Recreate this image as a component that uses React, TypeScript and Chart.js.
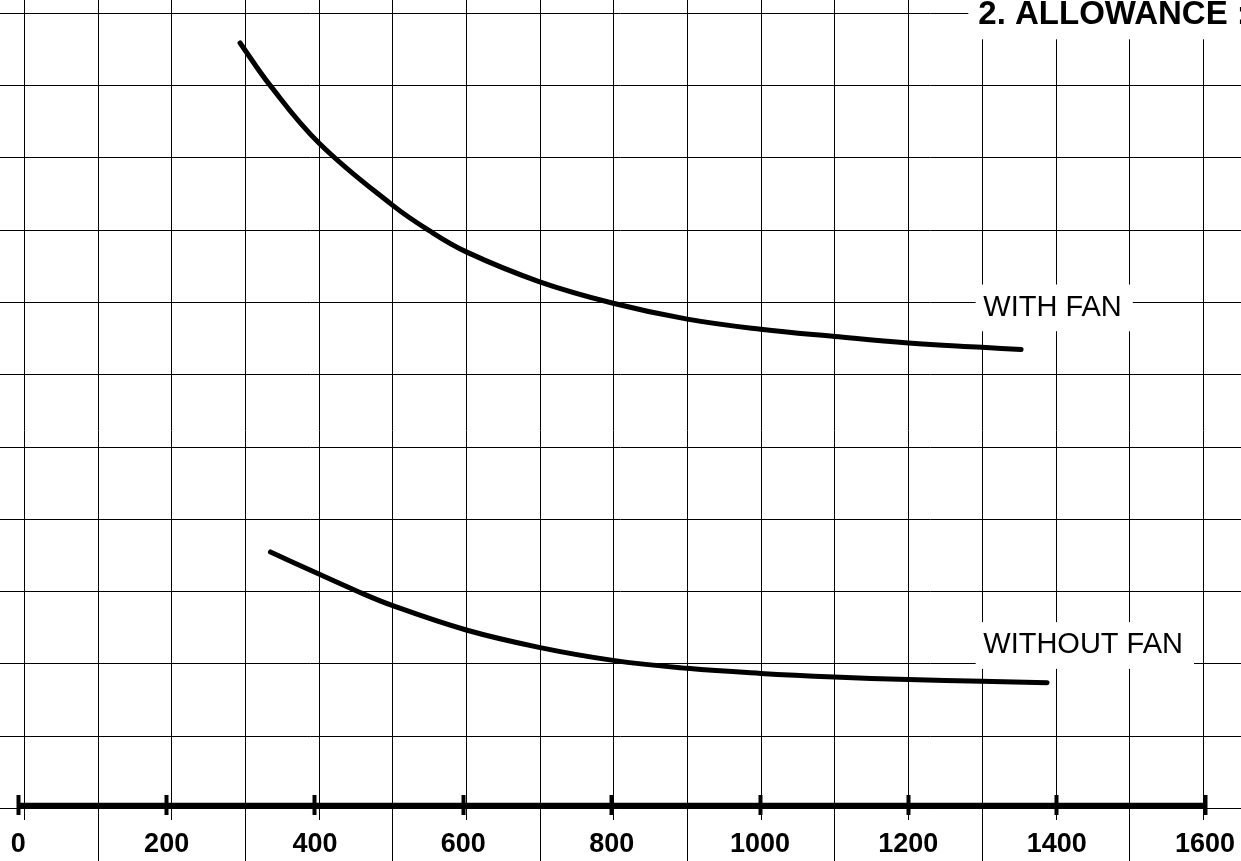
import React, { useEffect, useRef } from "react";
import { Chart, registerables } from "chart.js";

Chart.register(...registerables);

// ---- data ----
const X_TICKS = [0, 200, 400, 600, 800, 1000, 1200, 1400, 1600];
const GRID_X = [0, 1, 2, 3, 4, 5, 6, 7, 8, 9, 10, 11, 12, 13, 14, 15, 16];
const GRID_Y = [0, 1, 2, 3, 4, 5, 6, 7, 8, 9, 10, 11];

const WITH_FAN_X = [299, 339, 406, 504, 553, 604, 702, 802, 902, 1001, 1101, 1200, 1299, 1352];
const WITH_FAN_Y = [10.59, 10.01, 9.2, 8.35, 8.0, 7.7, 7.29, 6.99, 6.77, 6.63, 6.53, 6.44, 6.38, 6.35];

const WITHOUT_FAN_X = [340, 406, 454, 504, 604, 702, 802, 902, 1001, 1100, 1200, 1299, 1387];
const WITHOUT_FAN_Y = [3.55, 3.24, 3.02, 2.81, 2.47, 2.23, 2.05, 1.94, 1.87, 1.82, 1.785, 1.76, 1.74];

const SERIES_LABELS = ["WITH FAN", "WITHOUT FAN"];
const TITLE = "2. ALLOWANCE :";

// ---- layout constants ----
const W = 1241;
const H = 861;
const X_MIN = -24.67;
const X_MAX = 1648.5;
const Y_MIN = -0.725;
const Y_MAX = 11.184;
const XG_MIN = -0.33;
const XG_MAX = 16.51;
const TICK_AXIS_Y = 0.188; // where the labelled axis' tick marks begin
const AXIS_LINE_Y = 0.04; // thick axis line
const LABEL_X = 1301;
const LABEL_Y = [6.82, 2.15];

const FONT = '"Liberation Sans", Arial, sans-serif';

const toPoints = (xs: number[], ys: number[]) => xs.map((x, i) => ({ x, y: ys[i] }));

const textBoxesPlugin = {
  id: "textBoxes",
  afterDraw(chart: any) {
    const ctx = chart.ctx as CanvasRenderingContext2D;
    const xs = chart.scales.x;
    const ys = chart.scales.y;
    ctx.save();
    ctx.textBaseline = "alphabetic";
    ctx.textAlign = "left";
    ctx.font = `29px ${FONT}`;
    SERIES_LABELS.forEach((text, i) => {
      const px = xs.getPixelForValue(LABEL_X);
      const py = ys.getPixelForValue(LABEL_Y[i]);
      const w = ctx.measureText(text).width;
      ctx.fillStyle = "#fff";
      ctx.fillRect(px - 7.6, py - 31, w + 7.6 + 11, 46.7);
      ctx.fillStyle = "#000";
      ctx.fillText(text, px, py);
    });
    // title box (cut by the right edge)
    ctx.font = `bold 33px ${FONT}`;
    ctx.fillStyle = "#fff";
    ctx.fillRect(968.3, 0, chart.width - 968.3, 39.3);
    ctx.fillStyle = "#000";
    ctx.fillText(TITLE, 978.3, 24);
    ctx.restore();
  },
};

export default function App() {
  const ref = useRef<HTMLCanvasElement | null>(null);

  useEffect(() => {
    if (!ref.current) return;
    const lineStyle = {
      borderColor: "#000",
      borderWidth: 5,
      pointRadius: 0,
      borderCapStyle: "round" as const,
      borderJoinStyle: "round" as const,
      tension: 0.4,
      fill: false,
      xAxisID: "x",
      yAxisID: "y",
    };
    const chart = new Chart(ref.current, {
      type: "line",
      data: {
        datasets: [
          { ...lineStyle, label: SERIES_LABELS[0], data: toPoints(WITH_FAN_X, WITH_FAN_Y) },
          { ...lineStyle, label: SERIES_LABELS[1], data: toPoints(WITHOUT_FAN_X, WITHOUT_FAN_Y) },
          {
            label: "axis",
            data: [
              { x: X_TICKS[0], y: AXIS_LINE_Y },
              { x: X_TICKS[X_TICKS.length - 1], y: AXIS_LINE_Y },
            ],
            borderColor: "#000",
            borderWidth: 6,
            pointRadius: 0,
            borderCapStyle: "butt",
            tension: 0,
            xAxisID: "x",
            yAxisID: "y",
          },
        ],
      },
      options: {
        animation: false,
        responsive: false,
        events: [],
        layout: { padding: 0 },
        plugins: {
          legend: { display: false },
          tooltip: { enabled: false },
          title: { display: false },
        },
        scales: {
          xg: {
            type: "linear",
            axis: "x",
            position: { y: 0 } as any,
            min: XG_MIN,
            max: XG_MAX,
            afterBuildTicks: (s: any) => {
              s.ticks = GRID_X.map((v) => ({ value: v }));
            },
            grid: { color: "#000", lineWidth: 1, drawTicks: false, drawOnChartArea: true },
            border: { display: false },
            ticks: { display: false },
          },
          y: {
            type: "linear",
            axis: "y",
            position: { x: 0 } as any,
            min: Y_MIN,
            max: Y_MAX,
            afterBuildTicks: (s: any) => {
              s.ticks = GRID_Y.map((v) => ({ value: v }));
            },
            grid: { color: "#000", lineWidth: 1, drawTicks: false, drawOnChartArea: true },
            border: { display: false },
            ticks: { display: false },
          },
          x: {
            type: "linear",
            axis: "x",
            position: { y: TICK_AXIS_Y } as any,
            min: X_MIN,
            max: X_MAX,
            afterBuildTicks: (s: any) => {
              s.ticks = X_TICKS.map((v) => ({ value: v }));
            },
            grid: {
              z: 1,
              drawOnChartArea: false,
              drawTicks: true,
              tickLength: 20,
              tickWidth: 4,
              tickColor: "#000",
              color: "#000",
            },
            border: { display: false },
            ticks: {
              color: "#000",
              font: { family: FONT, size: 27, weight: "bold", lineHeight: 2.17 },
              padding: 0,
              maxRotation: 0,
              autoSkip: false,
              showLabelBackdrop: true,
              backdropColor: "#fff",
              backdropPadding: { top: -5, bottom: 0, left: 2, right: 2 },
              callback: (v: any) => String(v),
            },
          },
        },
      } as any,
      plugins: [textBoxesPlugin],
    });
    return () => chart.destroy();
  }, []);

  return (
    <div
      style={{
        position: "fixed",
        left: 0,
        top: 0,
        width: W,
        height: H,
        background: "#fff",
        overflow: "hidden",
      }}
    >
      <canvas ref={ref} width={W} height={H} style={{ width: W, height: H, display: "block" }} />
    </div>
  );
}
